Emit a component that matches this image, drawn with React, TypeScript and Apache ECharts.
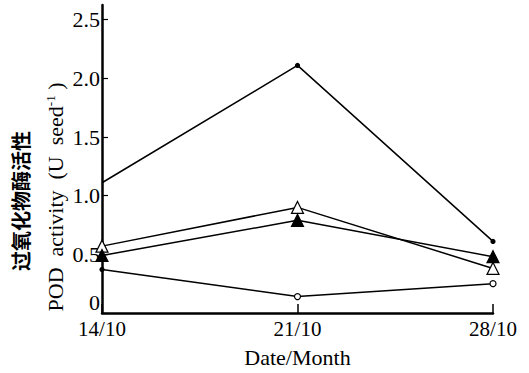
import React, { useEffect, useRef } from "react";
import * as echarts from "echarts";

const categories = ["14/10", "21/10", "28/10"];
const yTicks = [0, 0.5, 1.0, 1.5, 2.0, 2.5];
const seriesDot = [1.11, 2.11, 0.61];
const seriesOpenTri = [0.57, 0.9, 0.38];
const seriesFilledTri = [0.49, 0.79, 0.48];
const seriesOpenCircle = [0.37, 0.14, 0.25];

const serif = "Liberation Serif";

export default function App() {
  const ref = useRef<HTMLDivElement>(null);
  useEffect(() => {
    const chart = echarts.init(ref.current!, null, { renderer: "svg" });
    const lineBase = {
      type: "line" as const,
      lineStyle: { color: "#000", width: 1.5 },
      itemStyle: { color: "#000", borderColor: "#000", borderWidth: 1.2 },
      z: 3,
    };
    chart.setOption({
      animation: false,
      backgroundColor: "#fff",
      grid: { left: 102, right: 36, top: 5, bottom: 58 },
      xAxis: {
        type: "category",
        data: categories,
        boundaryGap: false,
        axisLine: { lineStyle: { color: "#000", width: 2.5 } },
        axisTick: { inside: true, length: 9, lineStyle: { color: "#000", width: 1.5 } },
        axisLabel: {
          color: "#000",
          margin: 5,
          formatter: (v: string) => `{n|${v}}`,
          rich: { n: { fontFamily: serif, fontSize: 21, color: "#000" } },
        },
        name: "{n|Date/Month}",
        nameLocation: "middle",
        nameGap: 33,
        nameTextStyle: { color: "#000", rich: { n: { fontFamily: serif, fontSize: 22, color: "#000" } } },
      },
      yAxis: {
        type: "value",
        min: 0,
        max: 2.625,
        interval: 0.5,
        splitLine: { show: false },
        axisLine: { show: true, lineStyle: { color: "#000", width: 2.5 } },
        axisTick: { show: true, inside: true, length: 6, customValues: yTicks, lineStyle: { color: "#000", width: 1.2 } },
        axisLabel: {
          color: "#000",
          margin: 2,
          customValues: yTicks,
          formatter: (v: number) => (v === 0 ? "{z|0}" : `{n|${v.toFixed(1)}}`),
          rich: {
            n: { fontFamily: serif, fontSize: 22, color: "#000" },
            z: { fontFamily: serif, fontSize: 22, color: "#000", padding: [0, 0, 22, 0] },
          },
        },
      },
      graphic: [
        {
          type: "text",
          x: 20,
          y: 201,
          rotation: Math.PI / 2,
          style: {
            text: "过氧化物酶活性",
            font: "bold 20px 'Noto Sans CJK SC'",
            fill: "#000",
            align: "center",
            verticalAlign: "middle",
          },
        },
        {
          type: "text",
          x: 55,
          y: 197,
          rotation: Math.PI / 2,
          style: {
            text: "POD  activity  (U  seed{sup|-1} )",
            font: "22px 'Liberation Serif'",
            fill: "#000",
            align: "center",
            verticalAlign: "middle",
            rich: {
              sup: { fontSize: 13, fontFamily: "Liberation Serif", verticalAlign: "top", padding: [0, 0, 9, 0] },
            },
          },
        },
      ],
      series: [
        {
          ...lineBase,
          name: "A",
          data: seriesDot.map((v, i) => (i === 0 ? { value: v, symbolSize: 0 } : v)),
          symbol: "circle",
          symbolSize: 4,
        },
        {
          ...lineBase,
          name: "B",
          data: seriesOpenTri,
          symbol: "triangle",
          symbolSize: 12,
          itemStyle: { color: "#fff", borderColor: "#000", borderWidth: 1.2 },
        },
        { ...lineBase, name: "C", data: seriesFilledTri, symbol: "triangle", symbolSize: 12 },
        {
          ...lineBase,
          name: "D",
          data: seriesOpenCircle.map((v, i) =>
            i === 0 ? { value: v, symbolSize: 4, itemStyle: { color: "#000" } } : v
          ),
          symbol: "circle",
          symbolSize: 6,
          itemStyle: { color: "#fff", borderColor: "#000", borderWidth: 1.2 },
        },
      ],
    });
    return () => chart.dispose();
  }, []);
  return <div ref={ref} style={{ position: "fixed", left: 0, top: 0, width: 529, height: 373 }} />;
}
